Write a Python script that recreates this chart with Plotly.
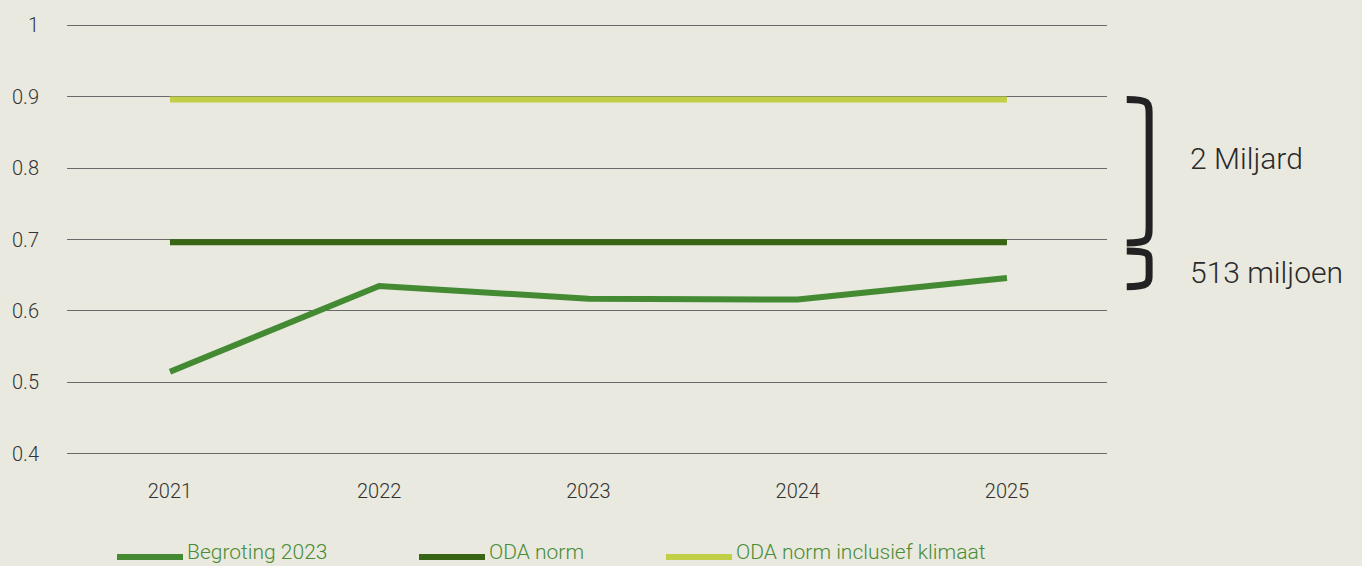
import plotly.graph_objects as go

years = ["2021", "2022", "2023", "2024", "2025"]
begroting_2023 = [0.515, 0.635, 0.617, 0.616, 0.646]
oda_norm = [0.696, 0.696, 0.696, 0.696, 0.696]
oda_klimaat = [0.896, 0.896, 0.896, 0.896, 0.896]
series_names = ["Begroting 2023", "ODA norm", "ODA norm inclusief klimaat"]
series_colors = ["#438a33", "#386514", "#c0cf45"]
y_ticks = [0.4, 0.5, 0.6, 0.7, 0.8, 0.9, 1.0]
y_tick_labels = ["0.4", "0.5", "0.6", "0.7", "0.8", "0.9", "1"]
brace_labels = ["2 Miljard", "513 miljoen"]

BG = "#e9e9df"
FONT = "Roboto"

fig = go.Figure()
for name, vals, col in zip(series_names, [begroting_2023, oda_norm, oda_klimaat], series_colors):
    fig.add_trace(go.Scatter(x=years, y=vals, mode="lines", name=name,
                             line=dict(color=col, width=6), showlegend=False))

# Braces (decoration)
brace_style = dict(type="path", xref="paper", yref="y", line=dict(color="#222222", width=7))
fig.add_shape(path="M 1.019,0.896 C 1.041,0.896 1.0405,0.892 1.0405,0.872 "
                   "L 1.0405,0.720 C 1.0405,0.700 1.041,0.695 1.019,0.695", **brace_style)
fig.add_shape(path="M 1.019,0.684 C 1.041,0.684 1.0405,0.680 1.0405,0.668 "
                   "L 1.0405,0.652 C 1.0405,0.640 1.041,0.634 1.019,0.634", **brace_style)
fig.add_annotation(x=1.078, y=0.814, xref="paper", yref="y", text=brace_labels[0],
                   showarrow=False, xanchor="left", yanchor="middle",
                   font=dict(family=FONT, size=30, color="#2a2a2a", weight=300))
fig.add_annotation(x=1.078, y=0.6545, xref="paper", yref="y", text=brace_labels[1],
                   showarrow=False, xanchor="left", yanchor="middle",
                   font=dict(family=FONT, size=30, color="#2a2a2a", weight=300))

# Manual legend at bottom (paper coords: plot area spans x 67..1107, y 18..461)
W = 1040.0
PT, PB = 18, 461
H = float(PB - PT)
leg_x = [117, 419, 666]
for xs, name, col in zip(leg_x, series_names, series_colors):
    x0 = (xs - 67) / W
    x1 = (xs + 66 - 67) / W
    fig.add_shape(type="line", xref="paper", yref="paper", x0=x0, x1=x1,
                  y0=-(557 - PB) / H, y1=-(557 - PB) / H,
                  line=dict(color=col, width=6))
    fig.add_annotation(x=(xs + 68 - 67) / W, y=-(552 - PB) / H, xref="paper", yref="paper",
                       text=name, showarrow=False, xanchor="left", yanchor="middle",
                       font=dict(family=FONT, size=21, color="#4a8c35", weight=300))

fig.update_layout(
    width=1362, height=566,
    margin=dict(l=67, r=255, t=PT, b=566 - PB),
    paper_bgcolor=BG, plot_bgcolor=BG,
    showlegend=False,
    xaxis=dict(type="category", range=[-0.492, 4.478], showgrid=False, showline=False, zeroline=False,
               ticks="", ticklabelstandoff=16,
               tickfont=dict(family=FONT, size=20, color="#333333", weight=300)),
    yaxis=dict(range=[0.39, 1.01], tickvals=y_ticks, ticktext=y_tick_labels,
               showgrid=True, gridcolor="#6a6a6a", gridwidth=1, zeroline=False, showline=False,
               ticks="", ticklabelstandoff=27,
               tickfont=dict(family=FONT, size=20, color="#333333", weight=300)),
)

fig.write_html("out.html", config={"displayModeBar": False},
               post_script="document.body.style.margin='0';document.body.style.overflow='hidden';")
